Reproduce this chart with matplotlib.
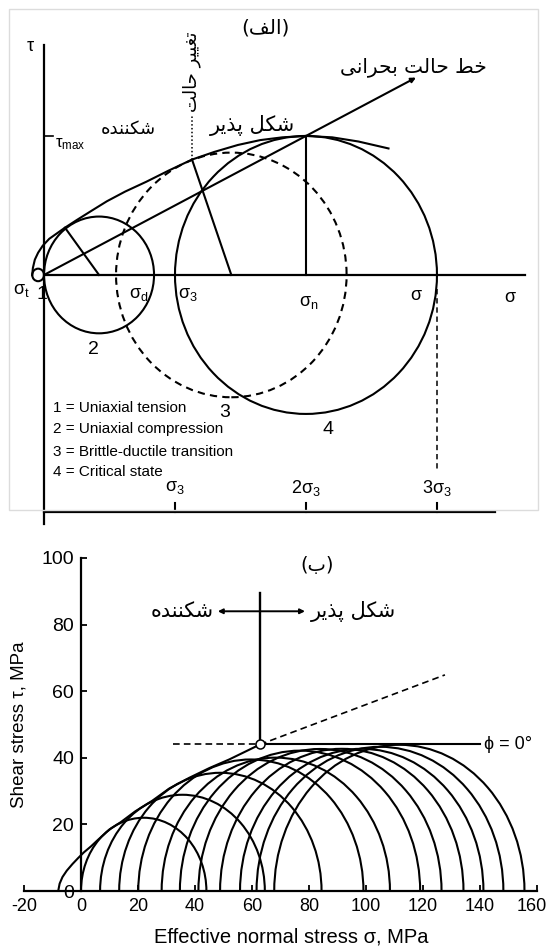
import matplotlib.pyplot as plt
import matplotlib.patches as mpatches
import matplotlib.transforms as mtransforms

plt.rcParams['font.family'] = ['Liberation Sans', 'DejaVu Sans']
plt.rcParams['mathtext.default'] = 'regular'
plt.rcParams['axes.unicode_minus'] = False

# ---------------- panel (a): Mohr circles in units of sigma_3 ----------------
circle_a_center = [-0.045, 0.42, 1.43, 2.0]
circle_a_radius = [0.045, 0.42, 0.88, 1.0]
circle_a_dashed = [False, False, True, False]

env_a_sigma = [-0.09, -0.085, -0.07, -0.045, -0.01, 0.04, 0.10, 0.16, 0.25, 0.36, 0.48,
               0.62, 0.78, 0.95, 1.13, 1.30, 1.48, 1.65, 1.82, 2.00, 2.20, 2.40, 2.63]
env_a_tau = [0.0, 0.05, 0.11, 0.16, 0.21, 0.26, 0.30, 0.34, 0.395, 0.46, 0.53,
             0.60, 0.67, 0.75, 0.83, 0.885, 0.935, 0.97, 0.99, 1.0, 0.99, 0.96, 0.91]

csl_end = (2.84, 1.42)            # critical state line tip
tangent_2 = (0.16, 0.34)          # envelope contact with circle 2
tangent_3 = (1.13, 0.83)          # envelope contact with circle 3
tau_max = 1.0
transition_top = 1.14

sigma_names_a = ['$σ_t$', '$σ_d$', '$σ_3$', '$σ_n$', 'σ', 'σ']
sigma_pos_a = [-0.175, 0.725, 1.10, 2.02, 2.84, 3.56]
sigma_lab_y = [-0.11, -0.14, -0.14, -0.2, -0.15, -0.16]

circle_ids = ['1', '2', '3', '4']
circle_id_pos = [(-0.015, -0.14), (0.374, -0.54), (1.38, -0.99), (2.17, -1.11)]

legend_a = ['1 = Uniaxial tension', '2 = Uniaxial compression',
            '3 = Brittle-ductile transition', '4 = Critical state']
legend_y = [-0.957, -1.108, -1.273, -1.417]

scale_ticks_a = [1, 2, 3]
scale_labels_a = ['$σ_3$', '$2σ_3$', '$3σ_3$']

# ---------------- panel (b): test series ----------------
circle_b_left = [0, 6.7, 13.4, 20.1, 28.3, 34.7, 41.2, 48.8, 55.8, 61.6, 67.8]
circle_b_right = [44, 64.5, 84.4, 99.1, 108.4, 119, 126.5, 134.2, 141.2, 148.2, 155.6]

env_b_sigma = [-8, -7.5, -6.5, -5, -3, -1, 1, 3.5, 6, 10, 14, 19, 25, 31, 38, 45, 52, 58, 62.8]
env_b_tau = [0, 2.2, 4.2, 6.1, 8.1, 9.9, 11.6, 13.4, 15.4, 18.5, 20.7, 23.9, 27.1, 30.8,
             34.0, 36.9, 39.5, 42.0, 44.0]

transition_b = (62.8, 44.0)
phi_zero_end = 140.0
dashed_start = 32.3
friction_end = (127.7, 64.9)
marker_top = 89.5
arrow_y = 84.0
arrow_left, arrow_right = 48.0, 78.6

x_ticks_b = [-20, 0, 20, 40, 60, 80, 100, 120, 140, 160]
y_ticks_b = [0, 20, 40, 60, 80, 100]

# Persian letters -> (isolated, final, initial, medial) presentation forms
FA_FORMS = {
    'ا': ('\ufe8d', '\ufe8e'),
    'ب': ('\ufe8f', '\ufe90', '\ufe91', '\ufe92'),
    'پ': ('\ufb56', '\ufb57', '\ufb58', '\ufb59'),
    'ت': ('\ufe95', '\ufe96', '\ufe97', '\ufe98'),
    'ح': ('\ufea1', '\ufea2', '\ufea3', '\ufea4'),
    'خ': ('\ufea5', '\ufea6', '\ufea7', '\ufea8'),
    'د': ('\ufea9', '\ufeaa'),
    'ذ': ('\ufeab', '\ufeac'),
    'ر': ('\ufead', '\ufeae'),
    'ش': ('\ufeb5', '\ufeb6', '\ufeb7', '\ufeb8'),
    'ط': ('\ufec1', '\ufec2', '\ufec3', '\ufec4'),
    'غ': ('\ufecd', '\ufece', '\ufecf', '\ufed0'),
    'ف': ('\ufed1', '\ufed2', '\ufed3', '\ufed4'),
    '\u06a9': ('\ufb8e', '\ufb8f', '\ufb90', '\ufb91'),
    '\u0643': ('\ufb8e', '\ufb8f', '\ufb90', '\ufb91'),
    'ل': ('\ufedd', '\ufede', '\ufedf', '\ufee0'),
    'ن': ('\ufee5', '\ufee6', '\ufee7', '\ufee8'),
    'ه': ('\ufee9', '\ufeea', '\ufeeb', '\ufeec'),
    '\u06cc': ('\ufbfc', '\ufbfd', '\ufbfe', '\ufbff'),
    '\u064a': ('\ufbfc', '\ufbfd', '\ufbfe', '\ufbff'),
}


def fa(text):
    """Join Persian letters and return them in left-to-right drawing order."""
    out = []
    for i, ch in enumerate(text):
        forms = FA_FORMS.get(ch)
        if forms is None:
            out.append(ch)
            continue
        prev = text[i - 1] if i > 0 else ''
        nxt = text[i + 1] if i + 1 < len(text) else ''
        join_prev = len(FA_FORMS.get(prev, ())) == 4
        join_next = len(forms) == 4 and nxt in FA_FORMS
        if join_prev and join_next:
            out.append(forms[3])
        elif join_prev:
            out.append(forms[1])
        elif join_next:
            out.append(forms[2])
        else:
            out.append(forms[0])
    mirror = {'(': ')', ')': '('}
    return ''.join(mirror.get(c, c) for c in reversed(out))


FA_FONT = ['DejaVu Sans']
LW = 1.5

fig = plt.figure(figsize=(5.5, 9.5), dpi=100)

# light frame around the upper diagram
fig.add_artist(mpatches.Rectangle((9 / 550, 1 - 510 / 950), 529 / 550, 501 / 950,
                                  transform=fig.transFigure, fill=False,
                                  ec='#dcdcdc', lw=1))

# ================= panel (a) =================
ax = fig.add_axes([0, 1 - 530 / 950, 1, 530 / 950])
ax.set_xlim(-0.336, 3.863)
ax.set_ylim(-1.835, 1.978)
ax.axis('off')

# axes drawn by hand
ax.plot([0, 0], [-1.79, 1.655], color='k', lw=1.6)
ax.plot([0, 3.67], [0, 0], color='k', lw=1.6)
ax.plot([0, 0.07], [tau_max, tau_max], color='k', lw=1.2)
ax.plot([0, 3.44], [-1.705, -1.705], color='k', lw=1.6)
for t in scale_ticks_a:
    ax.plot([t, t], [-1.705, -1.64], color='k', lw=1.5)

for c, r, dashed in zip(circle_a_center, circle_a_radius, circle_a_dashed):
    ax.add_patch(mpatches.Circle((c, 0), r, fill=False, ec='k', lw=LW,
                                 ls=(0, (3.5, 2.5)) if dashed else '-'))

ax.plot(env_a_sigma, env_a_tau, color='k', lw=LW)
ax.annotate('', xy=csl_end, xytext=(0, 0),
            arrowprops=dict(arrowstyle='-|>', color='k', lw=LW, mutation_scale=7,
                            shrinkA=0, shrinkB=0))
ax.plot([circle_a_center[1], tangent_2[0]], [0, tangent_2[1]], color='k', lw=LW)
ax.plot([circle_a_center[2], tangent_3[0]], [0, tangent_3[1]], color='k', lw=LW)
ax.plot([circle_a_center[3], circle_a_center[3]], [0, tau_max], color='k', lw=LW)
ax.plot([tangent_3[0], tangent_3[0]], [tangent_3[1], transition_top], color='k',
        lw=1.1, ls=(0, (1, 1.5)))
ax.plot([3, 3], [-0.1, -1.41], color='k', lw=1.1, ls=(0, (3.5, 2.5)))

ax.text(-0.107, 1.64, 'τ', fontsize=13, ha='center', va='center')
ax.text(0.084, 0.94, '$τ_{max}$', fontsize=12, ha='left', va='center')
for name, x, y in zip(sigma_names_a, sigma_pos_a, sigma_lab_y):
    ax.text(x, y, name, fontsize=13, ha='center', va='center')
for cid, (x, y) in zip(circle_ids, circle_id_pos):
    ax.text(x, y, cid, fontsize=14, ha='center', va='center')
for line, y in zip(legend_a, legend_y):
    ax.text(0.069, y, line, fontsize=11, ha='left', va='center')
for t, lab in zip(scale_ticks_a, scale_labels_a):
    ax.text(t, -1.53, lab, fontsize=13, ha='center', va='center')

ax.text(1.687, 1.777, fa('(الف)'), family=FA_FONT, fontsize=14.5, ha='center', va='center')
ax.text(2.817, 1.496, fa('خط حالت بحرانی'), family=FA_FONT, fontsize=14.5,
        ha='center', va='center')
ax.text(1.588, 1.072, fa('شکل پذیر'), family=FA_FONT, fontsize=15, ha='center', va='center')
ax.text(0.641, 1.05, fa('شکننده'), family=FA_FONT, fontsize=13, ha='center', va='center')
ax.text(1.13, 1.46, fa('تغییر حالت'), family=FA_FONT, fontsize=13, rotation=90,
        ha='center', va='center')

# ================= panel (b) =================
bx = fig.add_axes([24 / 550, 1 - 891 / 950, 513 / 550, 333 / 950])
bx.set_xlim(-20, 160)
bx.set_ylim(0, 100)
for side in ('top', 'right'):
    bx.spines[side].set_visible(False)
bx.spines['left'].set_position(('data', 0))
bx.spines['left'].set_linewidth(1.6)
bx.spines['bottom'].set_linewidth(1.6)
bx.set_xticks(x_ticks_b)
bx.set_yticks(y_ticks_b)
bx.tick_params(direction='in', length=4, width=1.3, pad=5)
bx.tick_params(axis='x', labelsize=13)
bx.tick_params(axis='y', labelsize=14)
bx.patch.set_alpha(0)

# keep the last x label inside the canvas
last = bx.get_xticklabels()[-1]
last.set_transform(last.get_transform() +
                   mtransforms.ScaledTranslation(-5 / 100, 0, fig.dpi_scale_trans))

for lft, rgt in zip(circle_b_left, circle_b_right):
    d = rgt - lft
    bx.add_patch(mpatches.Arc(((lft + rgt) / 2, 0), d, d, theta1=0, theta2=180,
                              ec='k', lw=LW))

bx.plot(env_b_sigma, env_b_tau, color='k', lw=LW)
bx.plot([dashed_start, transition_b[0]], [transition_b[1]] * 2, color='k', lw=1.2,
        ls=(0, (4, 2.5)))
bx.plot([transition_b[0], phi_zero_end], [transition_b[1]] * 2, color='k', lw=LW)
bx.plot([transition_b[0], friction_end[0]], [transition_b[1], friction_end[1]],
        color='k', lw=1.2, ls=(0, (4, 2.5)))
bx.plot([transition_b[0]] * 2, [transition_b[1], marker_top], color='k', lw=1.7)
bx.plot(*transition_b, marker='o', ms=6.5, mfc='white', mec='k', mew=1.1, zorder=5)
for end in (arrow_left, arrow_right):
    bx.annotate('', xy=(end, arrow_y), xytext=(transition_b[0], arrow_y),
                arrowprops=dict(arrowstyle='-|>', color='k', lw=1.4, mutation_scale=7,
                                shrinkA=0, shrinkB=0))

bx.text(phi_zero_end + 1.5, transition_b[1], 'ϕ = 0°', fontsize=13, ha='left', va='center')
bx.text(82.8, 97.6, fa('(ب)'), family=FA_FONT, fontsize=14, ha='center', va='center')
bx.text(arrow_left - 1.5, arrow_y, fa('شکننده'), family=FA_FONT, fontsize=15,
        ha='right', va='center')
bx.text(arrow_right + 2, arrow_y, fa('شکل پذیر'), family=FA_FONT, fontsize=15,
        ha='left', va='center')

fig.text(19 / 550, 1 - 725 / 950, 'Shear stress τ, MPa', rotation=90, fontsize=13.5,
         ha='center', va='center')
fig.text(291 / 550, 1 - 937 / 950, 'Effective normal stress σ, MPa', fontsize=14.5,
         ha='center', va='center')

fig.savefig('out.png', dpi=100)
